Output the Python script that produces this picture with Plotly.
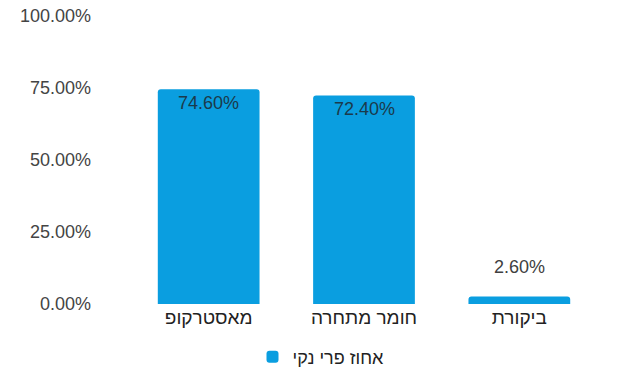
import plotly.graph_objects as go

categories = ["מאסטרקופ", "חומר מתחרה", "ביקורת"]
values = [74.6, 72.4, 2.6]
series_name = "אחוז פרי נקי"
tick_vals = [0, 25, 50, 75, 100]
tick_text = ["0.00%", "25.00%", "50.00%", "75.00%", "100.00%"]

BAR = "#0A9EE0"
FONT = "Arial, Liberation Sans, DejaVu Sans, sans-serif"

W, H = 641, 378

fig = go.Figure()
fig.add_trace(go.Bar(
    x=categories, y=values, name=series_name,
    marker=dict(color=BAR, line=dict(width=0)),
    showlegend=True,
))

annotations = []
for c, v in zip(categories, values):
    inside = v > 10
    annotations.append(dict(
        x=c, y=v, xref="x", yref="y",
        text=f"{v:.2f}%", showarrow=False,
        yanchor="middle",
        yshift=-14 if inside else 30,
        font=dict(family=FONT, size=18, color="#1B3A4B" if inside else "#404040"),
    ))

fig.update_layout(
    width=W, height=H,
    margin=dict(l=131, r=44, t=16, b=74, autoexpand=False),
    paper_bgcolor="white", plot_bgcolor="white",
    bargap=0.345,
    barcornerradius=3,
    font=dict(family=FONT, size=16, color="#333"),
    xaxis=dict(showgrid=False, showline=False, zeroline=False,
               tickfont=dict(size=19, color="#222"), ticks="", automargin=False),
    yaxis=dict(range=[0, 100], tickvals=tick_vals, ticktext=tick_text,
               showgrid=False, zeroline=False, showline=False,
               tickfont=dict(size=18, color="#444"), ticks="", ticklen=0,
               automargin=False, ticklabeloverflow="allow"),
    legend=dict(orientation="h", x=321 / W, xanchor="center", xref="container",
                y=1 - 357 / H, yanchor="middle", yref="container",
                font=dict(size=18, color="#222")),
    annotations=annotations,
    showlegend=True,
)
fig.update_yaxes(ticklabelstandoff=39)

fig.write_html(
    "out.html",
    config={"displayModeBar": False},
    post_script="document.body.style.margin='0';document.body.style.overflow='hidden';",
)
